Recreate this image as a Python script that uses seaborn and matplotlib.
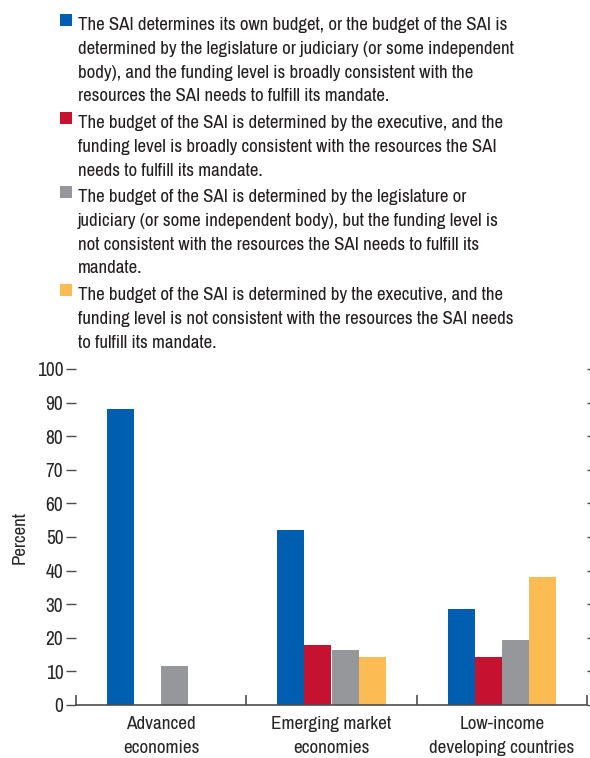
import pandas as pd
import numpy as np
import matplotlib
matplotlib.use("Agg")
import matplotlib.pyplot as plt
from matplotlib.patches import Rectangle
from matplotlib import font_manager as fm
import seaborn as sns

# ---- data ----
groups = ["Advanced\neconomies", "Emerging market\neconomies", "Low-income\ndeveloping countries"]
series = [
    "The SAI determines its own budget, or the budget of the SAI is\n"
    "determined by the legislature or judiciary (or some independent\n"
    "body), and the funding level is broadly consistent with the\n"
    "resources the SAI needs to fulfill its mandate.",
    "The budget of the SAI is determined by the executive, and the\n"
    "funding level is broadly consistent with the resources the SAI\n"
    "needs to fulfill its mandate.",
    "The budget of the SAI is determined by the legislature or\n"
    "judiciary (or some independent body), but the funding level is\n"
    "not consistent with the resources the SAI needs to fulfill its\n"
    "mandate.",
    "The budget of the SAI is determined by the executive, and the\n"
    "funding level is not consistent with the resources the SAI needs\n"
    "to fulfill its mandate.",
]
own_or_legis_ok = [88.1, 52.1, 28.6]
exec_ok = [0.0, 17.9, 14.3]
legis_not_ok = [11.6, 16.4, 19.3]
exec_not_ok = [0.0, 14.3, 38.1]
colors = ["#005EB0", "#C41230", "#96979B", "#FDBC53"]

rows = []
for s, vals in zip(series, [own_or_legis_ok, exec_ok, legis_not_ok, exec_not_ok]):
    for g, v in zip(groups, vals):
        rows.append({"group": g, "series": s, "value": v})
df = pd.DataFrame(rows)

# ---- style ----
sns.set_style("white")
installed = {f.name for f in fm.fontManager.ttflist}
narrow = [f for f in ["Liberation Sans Narrow", "Archivo Narrow", "Roboto Condensed",
                      "Fira Sans Condensed", "IBM Plex Sans Condensed", "PT Sans Narrow"]
          if f in installed]
plt.rcParams["font.family"] = narrow[:1] + ["DejaVu Sans"]
axis_col = "#4D4D4D"
fs = 13.55
ls = 1.6

fig = plt.figure(figsize=(5.9, 7.58), dpi=100)
ax = fig.add_axes([76 / 590, 1 - 705 / 758, 511 / 590, 336 / 758])

sns.barplot(data=df, x="group", y="value", hue="series", palette=colors,
            width=0.635, gap=0, ax=ax, legend=False, saturation=1)
for p in ax.patches:
    p.set_linewidth(0)

ax.set_ylim(0, 100)
ax.set_xlim(-0.5, 2.5)
ax.set_yticks(np.arange(0, 101, 10))
ax.tick_params(axis="y", which="major", direction="out", length=7, width=1,
               color=axis_col, labelsize=fs + 0.4, pad=2, left=True, right=True)
ax.tick_params(axis="x", which="major", length=0, labelsize=fs + 0.2, pad=8)
ax.set_xticks(range(3))
ax.set_xticklabels(groups, linespacing=ls)
ax.set_xticks([-0.5, 0.5, 1.5, 2.5], minor=True)
ax.tick_params(axis="x", which="minor", direction="in", length=7, width=1.2,
               color=axis_col, bottom=True)
ax.set_xlabel("")
ax.set_ylabel("Percent", fontsize=fs, labelpad=7)
for side in ["left", "right", "top"]:
    ax.spines[side].set_visible(False)
ax.spines["bottom"].set_color(axis_col)
ax.spines["bottom"].set_linewidth(1.2)

# ---- legend (top-aligned swatches) ----
line_h = 24 / 758
y = 1 - 14 / 758
for lab, c in zip(series, colors):
    n = lab.count("\n") + 1
    fig.patches.append(Rectangle((60 / 590, y - 12 / 758), 12 / 590, 12 / 758,
                                 transform=fig.transFigure, color=c, lw=0))
    fig.text(78 / 590, y - 3 / 758, lab, fontsize=fs, va="top", ha="left",
             linespacing=ls, color="#231F20")
    y -= n * line_h + 2 / 758

fig.savefig("out.png", dpi=100)
